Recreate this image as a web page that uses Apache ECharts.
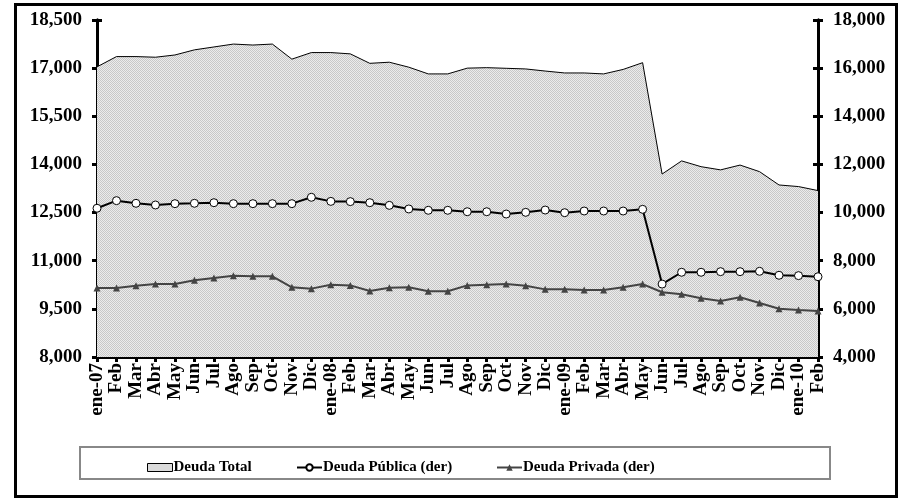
<!DOCTYPE html>
<html>
<head>
<meta charset="utf-8">
<script src="https://cdn.jsdelivr.net/npm/echarts@6/dist/echarts.min.js"></script>
<style>
html, body { margin: 0; padding: 0; background: #fff; }
#chart { width: 901px; height: 499px; }
</style>
</head>
<body>
<div id="chart"></div>
<script>
var meses = ['ene-07','Feb','Mar','Abr','May','Jun','Jul','Ago','Sep','Oct','Nov','Dic',
	'ene-08','Feb','Mar','Abr','May','Jun','Jul','Ago','Sep','Oct','Nov','Dic',
	'ene-09','Feb','Mar','Abr','May','Jun','Jul','Ago','Sep','Oct','Nov','Dic',
	'ene-10','Feb'];

var deudaTotal = [17040,17360,17360,17340,17410,17570,17660,17750,17720,17750,17280,17485,
	17485,17445,17150,17185,17030,16820,16820,17000,17015,16995,16975,16910,
	16850,16850,16820,16960,17170,13700,14110,13930,13830,13980,13775,13360,
	13310,13185];

var deudaPublica = [10180,10495,10385,10315,10370,10385,10410,10370,10370,10370,10370,10635,
	10465,10455,10410,10300,10150,10095,10095,10035,10035,9940,10010,10105,
	9995,10065,10065,10065,10135,7030,7520,7520,7545,7545,7560,7395,
	7380,7335];

var deudaPrivada = [6865,6865,6960,7030,7030,7185,7280,7380,7350,7350,6895,6840,
	7005,6975,6740,6880,6895,6730,6730,6975,7005,7030,6960,6810,
	6810,6785,6785,6895,7030,6690,6605,6440,6325,6480,6245,6005,
	5950,5910];

var chart = echarts.init(document.getElementById('chart'));

// dotted gray fill like the original
var pat = document.createElement('canvas');
pat.width = 2; pat.height = 2;
var pc = pat.getContext('2d');
pc.fillStyle = '#ececec'; pc.fillRect(0, 0, 2, 2);
pc.fillStyle = '#c8c8c8'; pc.fillRect(0, 0, 1, 1); pc.fillRect(1, 1, 1, 1);
var fill = { image: pat, repeat: 'repeat' };

var serif = 'Liberation Serif';
var axisLine = { show: true, lineStyle: { color: '#000', width: 3 } };

function yAx(pos, min, max, step, inside, labels) {
	return {
		type: 'value', position: pos, min: min, max: max, interval: step,
		axisLine: axisLine,
		axisTick: { show: true, inside: inside, length: 5, lineStyle: { color: '#000', width: 3 } },
		axisLabel: { show: labels, fontSize: 19, margin: 15, fontFamily: serif, fontWeight: 'bold', color: '#000',
			formatter: function (v) { return v.toLocaleString('en-US'); } },
		splitLine: { show: false }
	};
}

function legendText() {
	return { fontSize: 15, fontFamily: serif, fontWeight: 'bold', color: '#000', padding: [0, 0, 0, -4] };
}

var option = {
	animation: false,
	backgroundColor: '#fff',
	grid: { left: 97, right: 83, top: 20, bottom: 142 },
	xAxis: [{
		type: 'category', data: meses, boundaryGap: false,
		axisLine: axisLine,
		axisTick: { show: true, interval: 0, length: 5, lineStyle: { color: '#000', width: 3 } },
		axisLabel: { interval: 0, rotate: 90, fontSize: 19, margin: 6, fontFamily: serif, fontWeight: 'bold', color: '#000' }
	}],
	yAxis: [
		yAx('left', 8000, 18500, 1500, false, true),
		yAx('right', 4000, 18000, 2000, false, true),
		yAx('left', 8000, 18500, 1500, true, false),
		yAx('right', 4000, 18000, 2000, true, false)
	],
	legend: [
		{ left: 142, top: 455, itemWidth: 25, itemHeight: 8,
			data: [{ name: 'Deuda Total', icon: 'rect', itemStyle: { color: fill, borderColor: '#000', borderWidth: 1 } }],
			textStyle: legendText() },
		{ left: 291, top: 455, itemWidth: 25, itemHeight: 8, data: ['Deuda Pública (der)'], textStyle: legendText() },
		{ left: 491, top: 455, itemWidth: 25, itemHeight: 8, data: ['Deuda Privada (der)'], textStyle: legendText() }
	],
	graphic: [
		{ type: 'rect', silent: true, z: -1, shape: { x: 15.5, y: 4.5, width: 881, height: 492 }, style: { fill: null, stroke: '#000', lineWidth: 3 } },
		{ type: 'rect', silent: true, z: -1, shape: { x: 80, y: 447, width: 750, height: 32 }, style: { fill: null, stroke: '#888', lineWidth: 2 } }
	],
	series: [
		{
			name: 'Deuda Total', type: 'line', yAxisIndex: 0, data: deudaTotal,
			symbol: 'none', itemStyle: { color: fill, borderColor: '#000', borderWidth: 1 },
			lineStyle: { color: '#000', width: 1 },
			areaStyle: { color: fill, opacity: 1 },
			z: 1
		},
		{
			name: 'Deuda Pública (der)', type: 'line', yAxisIndex: 1, data: deudaPublica,
			symbol: 'circle', symbolSize: 8,
			itemStyle: { color: '#fff', borderColor: '#000', borderWidth: 1 },
			lineStyle: { color: '#000', width: 2 },
			z: 3
		},
		{
			name: 'Deuda Privada (der)', type: 'line', yAxisIndex: 1, data: deudaPrivada,
			symbol: 'triangle', symbolSize: 7,
			itemStyle: { color: '#444', borderColor: '#444', borderWidth: 0 },
			lineStyle: { color: '#444', width: 2 },
			z: 2
		}
	]
};

chart.setOption(option);
</script>
</body>
</html>
